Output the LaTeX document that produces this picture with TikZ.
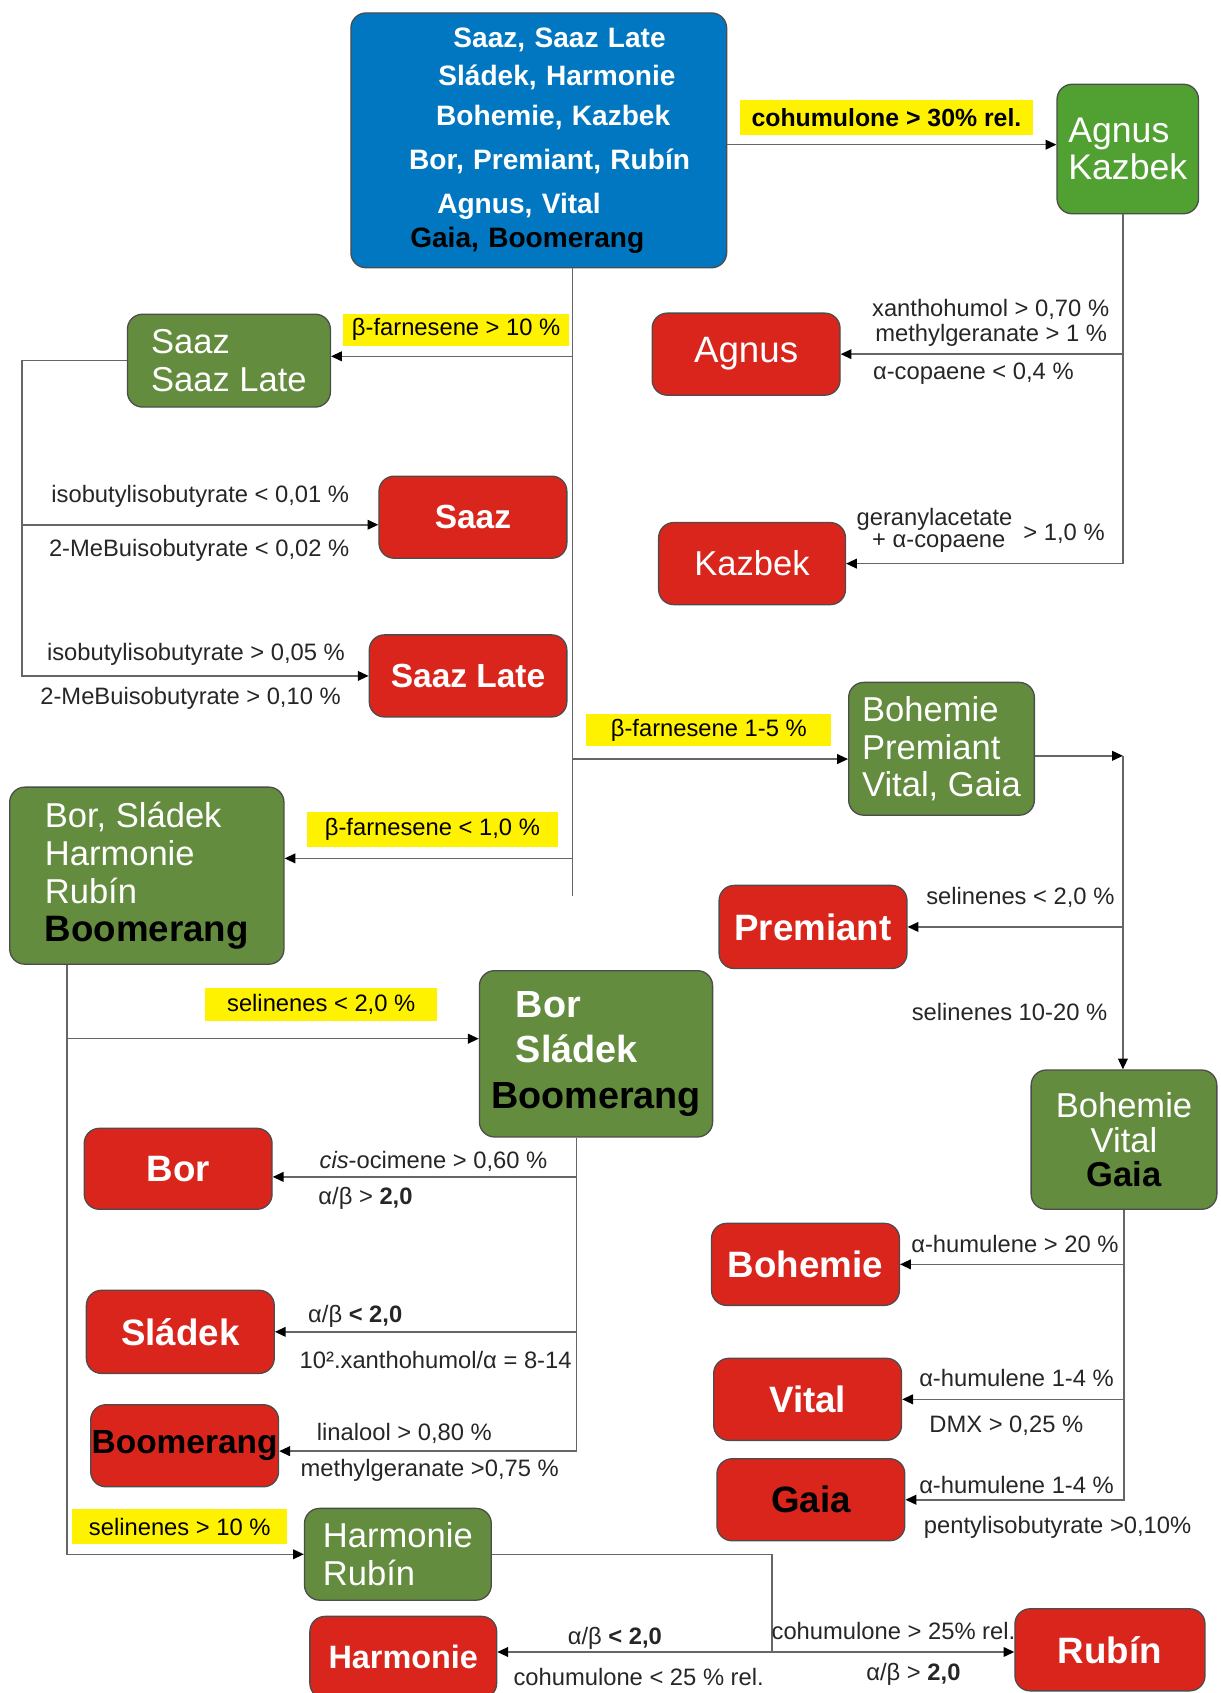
\documentclass[tikz,border=0pt]{standalone}
\usepackage{fontspec}
\setmainfont{Liberation Sans}
\usetikzlibrary{arrows.meta,calc}
\definecolor{hopblue}{RGB}{0,119,192}
\definecolor{hopgreen}{RGB}{80,160,50}
\definecolor{hopolive}{RGB}{100,140,62}
\definecolor{hopred}{RGB}{218,37,29}

\begin{document}
\begin{tikzpicture}[x=0.5pt,y=-0.5pt,
  box/.style={draw=black!70,line width=0.6pt,rounded corners=7pt,inner sep=0pt},
  bluebox/.style={box,fill=hopblue,text=white,font=\bfseries\fontsize{13}{16}\selectfont},
  leaf/.style={box,fill=hopred,text=white,minimum width=87pt,minimum height=38pt,font=\bfseries\fontsize{17}{20}\selectfont},
  group/.style={box,fill=hopolive,text=white,align=left,font=\fontsize{16}{17.5}\selectfont},
  cond/.style={inner sep=0pt,text=black!85,font=\fontsize{11}{13}\selectfont},
  hl/.style={cond,fill=yellow,text=black},
  link/.style={draw=black!60,line width=0.7pt},
  arr/.style={link,-{Triangle[length=5pt,width=4.5pt,color=black]}}
]
\useasboundingbox (0,0) rectangle (1130,1568);
\clip (0,0) rectangle (1130,1568);

\node[bluebox,minimum width=174pt,minimum height=118pt,text width=150pt,align=left] (top) at (499,130)
  {\hspace*{35.5pt}Saaz, Saaz Late\\[1.5pt]\hspace*{28.5pt}Sládek, Harmonie\\[2.5pt]\hspace*{27.5pt}Bohemie, Kazbek\\[4.5pt]\hspace*{15pt}Bor, Premiant, Rubín\\[4.5pt]\hspace*{28pt}Agnus, Vital\\[-0.5pt]\hspace*{15.5pt}\textcolor{black}{Gaia, Boomerang}};
\node[group,fill=hopgreen,minimum width=65.5pt,minimum height=60pt,font=\fontsize{16.5}{17}\selectfont] (agkaz) at (1044.5,138) {Agnus\\Kazbek};
\node[leaf,font=\fontsize{17}{20}\selectfont] (agnus) at (691,328) {Agnus};
\node[leaf,minimum width=86.5pt,font=\fontsize{16}{20}\selectfont] (kazbek) at (696.5,522) {Kazbek};
\node[group,minimum width=94pt,minimum height=43pt] (saazgrp) at (212,334) {Saaz\\Saaz Late};
\node[leaf,font=\bfseries\fontsize{15.5}{18}\selectfont] (saaz) at (438,479) {Saaz};
\node[leaf,minimum width=91.5pt,font=\bfseries\fontsize{15.5}{18}\selectfont] (saazlate) at (433.5,626) {Saaz Late};
\node[group,minimum width=86pt,minimum height=61.5pt] (bpvg) at (872,693.5) {Bohemie\\Premiant\\Vital, Gaia};
\node[leaf,minimum height=38.5pt] (premiant) at (753,858.5) {Premiant};
\node[group,align=center,minimum width=86pt,minimum height=64.5pt,font=\fontsize{16}{16}\selectfont] (bvg) at (1041,1055.5) {Bohemie\\Vital\\\textcolor{black}{\bfseries Gaia}};
\node[leaf] (bohemie) at (746,1171) {Bohemie};
\node[leaf] (vital) at (748,1296) {Vital};
\node[leaf,text=black] (gaia) at (751,1389) {Gaia};
\node[group,minimum width=127pt,minimum height=82pt] (bshrb) at (136,811) {Bor, Sládek\\Harmonie\\Rubín\\\textcolor{black}{\bfseries\fontsize{17}{17.5}\selectfont Boomerang}};
\node[group,minimum width=108pt,minimum height=77pt,font=\bfseries\fontsize{17.5}{21}\selectfont] (bsb) at (552,976) {\hspace*{11.5pt}Bor\\\hspace*{11.5pt}Sládek\\\textcolor{black}{Boomerang}};
\node[leaf,minimum height=37.5pt] (bor) at (165,1082.5) {Bor};
\node[leaf,minimum height=38.5pt] (sladek) at (167,1233.5) {Sládek};
\node[leaf,text=black,font=\bfseries\fontsize{15.5}{18}\selectfont] (boomer) at (171,1339) {Boomerang};
\node[group,minimum width=86.5pt,minimum height=42.5pt] (hr) at (368.5,1439.5) {Harmonie\\Rubín};
\node[leaf,minimum width=86.5pt,font=\bfseries\fontsize{15}{18}\selectfont] (harmonie) at (373.5,1535) {Harmonie};
\node[leaf,minimum width=88pt] (rubin) at (1028,1528) {Rubín};

\coordinate (trunk) at ([xshift=15.5pt]top.south);
\coordinate (trunkend) at (530,830);
\coordinate (sl) at ([xshift=-48.5pt]saazgrp.west);
\coordinate (bp) at (1040,700);
\coordinate (bl) at ([xshift=-37pt]bshrb.south);
\coordinate (bsbot) at ([xshift=-9pt]bsb.south);
\coordinate (hj) at (715,1530);

\draw[arr] ([yshift=-2pt]top.east) -- ([yshift=2pt]agkaz.west);
\draw[arr] ([xshift=-2.25pt]agkaz.south) |- (agnus.east);
\draw[arr] ([xshift=-2.25pt]agkaz.south) |- (kazbek.east);
\draw[link] (trunk) -- (trunkend);
\draw[arr] (trunk) |- ([yshift=2pt]saazgrp.east);
\draw[arr] (trunk) |- ([yshift=-4.75pt]bpvg.west);
\draw[arr] (trunk) |- ([yshift=8pt]bshrb.east);
\draw[arr] (saazgrp.west) -- (sl) |- ([yshift=-3.5pt]saaz.west);
\draw[arr] (sl) |- (saazlate.west);
\draw[arr] ([yshift=-3.25pt]bpvg.east) -- (bp);
\draw[arr] (bp) -- (bp |- bvg.north);
\draw[arr] (bp) |- (premiant.east);
\draw[arr] (bvg.south) |- (bohemie.east);
\draw[arr] (bvg.south) |- (vital.east);
\draw[arr] (bvg.south) |- (gaia.east);
\draw[arr] (bl) |- ([yshift=7pt]bsb.west);
\draw[arr] (bl) |- (hr.west);
\draw[arr] (bsbot) |- ([yshift=-3.75pt]bor.east);
\draw[arr] (bsbot) |- (sladek.east);
\draw[arr] (bsbot) |- ([yshift=-2.5pt]boomer.east);
\draw[link] (hr.east) -| (hj);
\draw[arr] (hj) -- (hj -| harmonie.east);
\draw[arr] (hj) -- (hj -| rubin.west);

\node[hl,minimum width=136pt,minimum height=16pt,font=\bfseries\fontsize{11.5}{13}\selectfont] (c30) at (821,109) {cohumulone > 30\% rel.};
\node[hl,minimum width=104.5pt,minimum height=14.5pt] (bf10) at (422.5,305.5) {β-farnesene > 10 \%};
\node[hl,minimum width=113.5pt,minimum height=15pt] (bf15) at (656.5,676) {β-farnesene 1-5 \%};
\node[hl,minimum width=116.5pt,minimum height=16pt] (bf1) at (400.5,768) {β-farnesene < 1,0 \%};
\node[hl,minimum width=107.5pt,minimum height=15.5pt] (sel2) at (297.5,930.5) {selinenes < 2,0 \%};
\node[hl,minimum width=99.5pt,minimum height=16pt] (sel10) at (166.5,1414) {selinenes > 10 \%};

\node[cond] (xan) at (917.5,287) {xanthohumol > 0,70 \%};
\node[cond] (mgA) at (918,311) {methylgeranate > 1 \%};
\node[cond] (copA) at (901.5,346) {α-copaene < 0,4 \%};
\node[cond] (gera) at (865.5,481) {geranylacetate};
\node[cond] (copK) at (869.5,503) {+ α-copaene};
\node[cond] (gk) at (985.5,494) {> 1,0 \%};
\node[cond] (ib1) at (185.5,460) {isobutylisobutyrate < 0,01 \%};
\node[cond] (mb1) at (184.5,510) {2-MeBuisobutyrate < 0,02 \%};
\node[cond] (ib2) at (181.5,606) {isobutylisobutyrate > 0,05 \%};
\node[cond] (mb2) at (176.5,647) {2-MeBuisobutyrate > 0,10 \%};
\node[cond] (selP) at (945,831) {selinenes < 2,0 \%};
\node[cond] (selBVG) at (935,937) {selinenes 10-20 \%};
\node[cond] (humB) at (940,1152) {α-humulene > 20 \%};
\node[cond] (humV) at (941.5,1276) {α-humulene 1-4 \%};
\node[cond] (dmx) at (932,1320) {DMX > 0,25 \%};
\node[cond] (humG) at (941.5,1375) {α-humulene 1-4 \%};
\node[cond] (pent) at (979.5,1415) {pentylisobutyrate >0,10\%};
\node[cond] (cis) at (401.5,1076) {\textit{cis}-ocimene > 0,60 \%};
\node[cond] (abBor) at (338.5,1110) {α/β > \textbf{2,0}};
\node[cond] (abSl) at (329,1219) {α/β \textbf{< 2,0}};
\node[cond] (xanSl) at (403.5,1260) {10².xanthohumol/α = 8-14};
\node[cond] (lin) at (374.5,1328) {linalool > 0,80 \%};
\node[cond] (mgB) at (398,1362) {methylgeranate >0,75 \%};
\node[cond] (abH) at (569.5,1517) {α/β \textbf{< 2,0}};
\node[cond] (cohH) at (591.5,1553) {cohumulone < 25 \% rel.};
\node[cond] (cohR) at (827.5,1511) {cohumulone > 25\% rel.};
\node[cond] (abR) at (846,1551) {α/β > \textbf{2,0}};
\end{tikzpicture}
\end{document}
